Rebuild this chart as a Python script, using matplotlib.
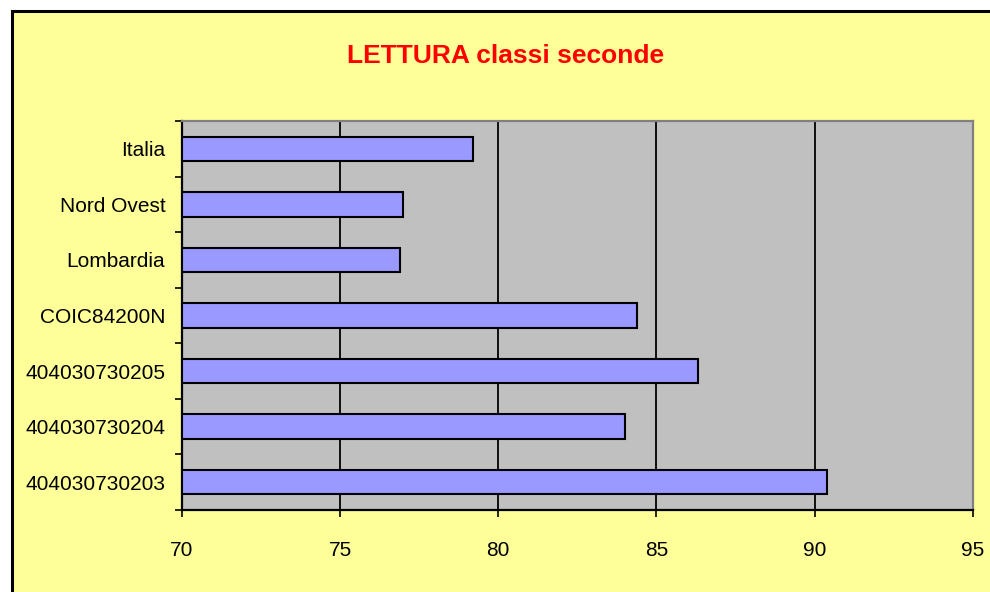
import matplotlib
matplotlib.use("Agg")
import matplotlib.pyplot as plt
from matplotlib.patches import Rectangle
import numpy as np

categories = ["Italia", "Nord Ovest", "Lombardia", "COIC84200N",
              "404030730205", "404030730204", "404030730203"]
values = [79.2, 77.0, 76.9, 84.4, 86.3, 84.0, 90.4]
xticks = [70, 75, 80, 85, 90, 95]
title = "LETTURA classi seconde"

plt.rcParams['font.family'] = ['Liberation Sans', 'DejaVu Sans']

fig = plt.figure(figsize=(9.9, 5.92), dpi=100, facecolor="white")
bg = Rectangle((12/990, 0 - 0.05), 1.1, 1 - 11/592 + 0.05, transform=fig.transFigure,
               facecolor="#FFFF99", edgecolor="black", linewidth=2.2, zorder=-10)
fig.add_artist(bg)

ax = fig.add_axes([182/990, 1 - 510/592, (972.7 - 182)/990, (510 - 121)/592])
ax.set_zorder(5)
ax.set_facecolor("#C0C0C0")

n = len(categories)
ypos = np.arange(n)[::-1]
ax.barh(ypos, [v - 70 for v in values], left=70, height=0.44,
        color="#9999FF", edgecolor="black", linewidth=1.5, zorder=3)

ax.set_xlim(70, 95)
ax.set_ylim(-0.5, n - 0.5)
ax.set_xticks(xticks)
ax.set_xticklabels([str(t) for t in xticks], fontsize=15)
ax.set_yticks(ypos)
ax.set_yticklabels(categories, fontsize=15)
ax.tick_params(axis='y', length=0, pad=12)
ax.set_yticks(np.arange(-0.5, n, 1.0), minor=True)
ax.tick_params(axis='y', which='minor', length=5, width=1.2, color="black", direction="out")
ax.tick_params(axis='x', length=5, width=1.2, color="black", direction="out", pad=17)

for x in xticks[1:-1]:
    ax.axvline(x, color="black", linewidth=1.3, zorder=2)

for s in ["left", "bottom"]:
    ax.spines[s].set_color("black")
    ax.spines[s].set_linewidth(1.6)
for s in ["top", "right"]:
    ax.spines[s].set_color("#808080")
    ax.spines[s].set_linewidth(1.6)

fig.text(506/990, 1 - 56/592, title, color="#FF0000", fontsize=19,
         fontweight="bold", ha="center", va="center")

fig.savefig("out.png", dpi=100, facecolor=fig.get_facecolor())
